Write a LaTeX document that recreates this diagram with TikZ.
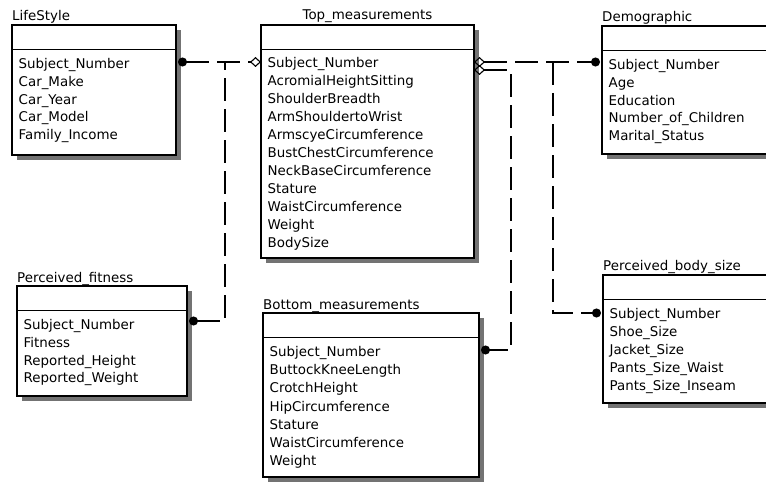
\documentclass[tikz,border=0pt]{standalone}
\usepackage{fontspec}
\setmainfont{DejaVu Sans}
\usetikzlibrary{arrows.meta,positioning,shadows}

\begin{document}
\begin{tikzpicture}[x=1pt,y=-1pt]

\tikzstyle{tbl} = [rectangle, anchor=north west, draw=black, line width=1.2pt, fill=white, inner sep=0pt, outer sep=0pt, drop shadow={shadow xshift=5pt, shadow yshift=-5pt, fill=black!55, opacity=1}]

\tikzstyle{ttl} = [anchor=base west, inner sep=0pt, font=\fontsize{13.4}{16}\selectfont]

\tikzstyle{attr} = [anchor=base west, inner sep=0pt, font=\fontsize{13.4}{16}\selectfont]

\tikzstyle{rel} = [line width=1.1pt, dash pattern=on 23pt off 8pt]

\tikzset{ones/.tip={Circle[length=9pt]}, zero/.tip={Diamond[open,length=11pt,width=10pt]}}

    \clip (0,0) rectangle (766,487);

    % tables
    \node [tbl, minimum width=164pt, minimum height=130pt] (life) at (12,25) {};
    \node [tbl, minimum width=213pt, minimum height=233pt] (top) at (261,25) {};
    \node [tbl, minimum width=170pt, minimum height=128pt] (demo) at (602,26) {};
    \node [tbl, minimum width=170pt, minimum height=110pt] (fit) at (17,286) {};
    \node [tbl, minimum width=216pt, minimum height=164pt] (bot) at (263,313) {};
    \node [tbl, minimum width=170pt, minimum height=128pt] (body) at (603,275) {};

    \node [ttl] (life-t) at ([yshift=4pt]life.north west) {LifeStyle};
    \node [ttl, anchor=base] (top-t) at ([yshift=5pt]top.north) {Top\_measurements};
    \node [ttl] (demo-t) at ([yshift=4pt]demo.north west) {Demographic};
    \node [ttl] (fit-t) at ([yshift=4pt]fit.north west) {Perceived\_fitness};
    \node [ttl] (bot-t) at ([yshift=4pt]bot.north west) {Bottom\_measurements};
    \node [ttl] (body-t) at ([yshift=5pt]body.north west) {Perceived\_body\_size};

    \foreach \tb in {life,top,demo,fit,bot,body}
        \draw [line width=1.2pt] ([yshift=-24.5pt]\tb.north west) -- ([yshift=-24.5pt]\tb.north east);

    % fields
    \foreach \t [count=\i] in {Subject\_Number, Car\_Make, Car\_Year, Car\_Model, Family\_Income}
        \node [attr] (life-\i) at ([xshift=6.5pt, yshift={-(43.5+(\i-1)*17.8)*1pt}]life.north west) {\t};
    \foreach \t [count=\i] in {Subject\_Number, AcromialHeightSitting, ShoulderBreadth, ArmShouldertoWrist, ArmscyeCircumference, BustChestCircumference, NeckBaseCircumference, Stature, WaistCircumference, Weight, BodySize}
        \node [attr] (top-\i) at ([xshift=6.5pt, yshift={-(43+(\i-1)*17.9)*1pt}]top.north west) {\t};
    \foreach \t [count=\i] in {Subject\_Number, Age, Education, Number\_of\_Children, Marital\_Status}
        \node [attr] (demo-\i) at ([xshift=6.5pt, yshift={-(43.5+(\i-1)*17.8)*1pt}]demo.north west) {\t};
    \foreach \t [count=\i] in {Subject\_Number, Fitness, Reported\_Height, Reported\_Weight}
        \node [attr] (fit-\i) at ([xshift=6.5pt, yshift={-(43.5+(\i-1)*17.8)*1pt}]fit.north west) {\t};
    \foreach \t [count=\i] in {Subject\_Number, ButtockKneeLength, CrotchHeight, HipCircumference, Stature, WaistCircumference, Weight}
        \node [attr] (bot-\i) at ([xshift=6.5pt, yshift={-(43.5+(\i-1)*18.2)*1pt}]bot.north west) {\t};
    \foreach \t [count=\i] in {Subject\_Number, Shoe\_Size, Jacket\_Size, Pants\_Size\_Waist, Pants\_Size\_Inseam}
        \node [attr] (body-\i) at ([xshift=6.5pt, yshift={-(43+(\i-1)*18.2)*1pt}]body.north west) {\t};

    % links
    \coordinate (j1) at (225,62);
    \coordinate (j2) at (553,62);
    \coordinate (j3) at (511,70);
    \coordinate (fitC) at (0,321);
    \coordinate (botC) at (0,350);
    \coordinate (bodyC) at (0,313);

    \draw [rel, ones-zero] ([xshift=2pt]life.east |- j1) -- (top.west |- j1);
    \draw [rel, ones-] ([xshift=2pt]fit.east |- fitC) -- (j1 |- fitC) -- (j1);
    \draw [rel, zero-ones] (top.east |- j2) -- ([xshift=-2pt]demo.west |- j2);
    \draw [rel, -ones] (j2) -- (j2 |- bodyC) -- ([xshift=-2pt]body.west |- bodyC);
    \draw [rel, zero-ones] (top.east |- j3) -- (j3) -- (j3 |- botC) -- ([xshift=2pt]bot.east |- botC);

\end{tikzpicture}
\end{document}
